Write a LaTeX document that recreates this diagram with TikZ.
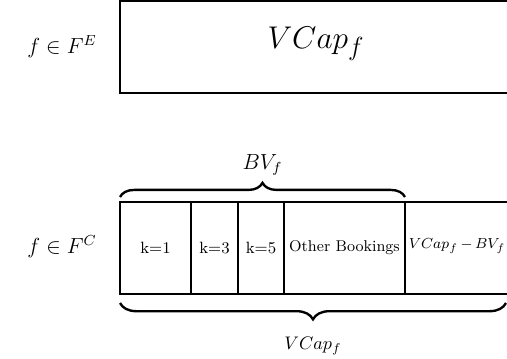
\documentclass[tikz,border=0pt]{standalone}
\usetikzlibrary{decorations.pathreplacing,fit}
\begin{document}
\begin{tikzpicture}[x=0.55pt,y=0.55pt,
  cell/.style={draw, line width=0.75pt, inner sep=0pt},
  bracestyle/.style={decorate, decoration={brace, amplitude=#1}, line width=1.3pt},
  celltext/.style={font=\small},
]
\useasboundingbox (0,0) rectangle (507,-358);
\begin{scope}
\clip (0,0) rectangle (507,-358);
% upper flow class: one cell spanning the whole capacity
\node[cell, fit={(120,-1) (520,-93)}] (top) {};
% lower flow class: bookings split by class, then the remainder
\node[cell, fit={(120,-202) (191,-294)}] (k1) {};
\node[cell, fit={(191,-202) (238,-294)}] (k3) {};
\node[cell, fit={(238,-202) (284,-294)}] (k5) {};
\node[cell, fit={(284,-202) (405,-294)}] (other) {};
\node[cell, fit={(405,-202) (520,-294)}] (rest) {};
\end{scope}

\node at (316,-44) {\fontsize{19}{22}\selectfont $VCap_f$};
\node at (62,-47) {\large $f \in F^E$};
\node at (62,-247) {\large $f \in F^C$};

\node[celltext] at (k1.center) {k=1};
\node[celltext] at (k3.center) {k=3};
\node[celltext] at (k5.center) {k=5};
\node[font=\fontsize{8.6}{10}\selectfont] at (other.center) {Other Bookings};
\node[font=\fontsize{8.4}{10}\selectfont] at (457,-246) {$VCap_f\,{-}\,BV_f$};

% braces over the booked part and under the full capacity
\coordinate (bvL) at (120,-197);
\coordinate (bvR) at (405,-197);
\coordinate (capL) at (120,-303);
\coordinate (capR) at (506,-303);
\draw[bracestyle=7.8pt] (bvL) -- node[above=8pt, font=\large] (bvlab) {$BV_f$} (bvR);
\draw[bracestyle=9pt] (capR) -- node[below=15pt] (caplab) {$VCap_f$} (capL);
\end{tikzpicture}
\end{document}
